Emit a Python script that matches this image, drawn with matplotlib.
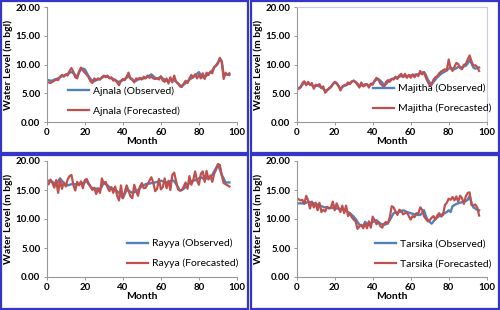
import matplotlib
matplotlib.use("Agg")
import matplotlib.pyplot as plt
from matplotlib.patches import Rectangle
import numpy as np

months = list(range(1, 97))

ajnala_obs = [7.3, 7.2, 7.2, 7.4, 7.5, 7.6, 7.8, 8.0, 8.1, 8.2,
              8.4, 8.6, 8.7, 8.5, 8.2, 7.9, 8.6, 9.2, 9.3, 9.2,
              8.6, 8.0, 7.5, 7.2, 7.1, 7.3, 7.4, 7.5, 7.7, 7.9,
              8.0, 7.9, 7.7, 7.6, 7.5, 7.3, 7.1, 7.0, 7.1, 7.3,
              7.5, 7.7, 8.0, 7.6, 7.3, 7.1, 7.2, 7.4, 7.5, 7.6,
              7.6, 7.7, 7.9, 8.1, 8.3, 8.0, 7.7, 7.6, 7.7, 7.8,
              7.6, 7.4, 7.2, 7.2, 7.3, 7.4, 7.3, 7.0, 6.7, 6.4,
              6.3, 6.5, 6.8, 7.0, 7.4, 7.6, 7.8, 8.1, 8.4, 8.7,
              8.2, 7.8, 7.9, 8.1, 8.4, 8.6, 9.0, 9.5, 9.9, 10.4,
              11.0, 10.6, 8.2, 8.3, 8.3, 8.2]
ajnala_fc = [6.9, 6.8, 7.0, 7.2, 7.4, 7.3, 7.9, 8.2, 7.9, 8.3,
             8.1, 8.9, 9.4, 8.8, 7.8, 7.6, 8.8, 9.5, 9.0, 8.6,
             8.3, 7.8, 7.1, 6.8, 7.6, 7.3, 7.6, 7.4, 7.8, 8.1,
             7.8, 8.1, 7.6, 7.8, 7.2, 7.4, 6.9, 6.4, 7.2, 7.5,
             7.3, 7.9, 8.6, 7.6, 7.5, 6.9, 7.6, 7.5, 7.7, 7.4,
             7.9, 7.6, 8.1, 7.7, 7.9, 7.6, 7.5, 7.6, 7.4, 8.0,
             7.2, 7.0, 7.6, 6.7, 7.8, 6.9, 8.1, 7.0, 6.8, 6.2,
             6.1, 6.7, 7.2, 6.8, 7.6, 8.2, 7.8, 8.3, 7.6, 8.2,
             7.6, 8.5, 7.5, 8.6, 8.2, 8.8, 8.5, 9.6, 9.8, 10.2,
             11.2, 10.4, 7.5, 8.6, 8.2, 8.5]

majitha_obs = [5.9, 6.1, 6.5, 6.9, 6.6, 6.8, 6.5, 6.4, 6.2, 6.3,
               6.3, 6.2, 6.0, 5.8, 5.4, 5.6, 5.8, 6.1, 6.6, 6.9,
               6.7, 6.3, 5.8, 6.1, 6.3, 6.4, 6.6, 6.8, 7.0, 7.2,
               7.0, 6.7, 6.3, 6.4, 6.4, 6.6, 6.5, 6.3, 6.5, 6.7,
               7.1, 7.4, 7.5, 7.2, 6.9, 6.4, 6.6, 7.0, 7.3, 7.5,
               7.6, 7.7, 7.8, 7.9, 8.0, 8.0, 8.0, 8.0, 8.1, 8.1,
               8.2, 8.2, 8.3, 8.3, 8.5, 8.6, 8.7, 8.2, 7.4, 6.9,
               6.6, 7.0, 7.4, 7.8, 8.1, 8.4, 8.6, 8.8, 9.0, 9.3,
               9.5, 9.3, 9.2, 9.4, 9.6, 9.6, 9.5, 9.7, 9.8, 10.2,
               10.8, 10.2, 9.5, 9.3, 9.4, 9.5]
majitha_fc = [5.8, 6.0, 6.8, 7.1, 6.4, 7.0, 6.5, 6.8, 5.8, 6.5,
              6.4, 6.6, 5.9, 6.2, 5.1, 5.5, 5.9, 6.1, 6.6, 7.0,
              6.8, 6.3, 5.5, 6.2, 6.4, 6.5, 6.9, 6.6, 7.1, 7.2,
              6.9, 6.5, 6.0, 6.9, 6.2, 6.4, 6.6, 6.0, 6.7, 6.5,
              7.2, 7.7, 7.4, 6.7, 6.4, 6.1, 7.0, 7.3, 7.0, 7.5,
              7.4, 7.9, 7.5, 8.1, 8.4, 7.8, 8.4, 7.7, 8.2, 7.7,
              8.3, 7.8, 8.3, 8.0, 8.9, 8.3, 8.7, 7.7, 7.0, 6.4,
              6.5, 7.4, 7.8, 8.0, 8.5, 8.8, 9.0, 9.2, 9.0, 10.9,
              9.4, 8.9, 9.6, 10.3, 10.1, 9.4, 9.2, 10.0, 10.1, 10.9,
              11.6, 10.6, 9.8, 9.9, 9.6, 8.9]

rayya_obs = [16.6, 16.5, 16.4, 16.2, 16.0, 16.5, 17.0, 16.6, 16.2, 15.9,
             15.8, 15.9, 16.0, 16.0, 16.0, 15.9, 16.0, 16.1, 16.2, 16.3,
             16.5, 16.0, 15.6, 15.3, 15.3, 15.2, 15.3, 15.0, 15.6, 16.4,
             16.0, 15.8, 15.5, 15.3, 15.2, 15.0, 14.8, 14.5, 14.0, 13.6,
             14.3, 15.0, 14.9, 14.7, 14.5, 14.6, 14.8, 15.0, 15.3, 15.7,
             15.8, 16.0, 16.1, 16.1, 16.2, 16.2, 16.3, 16.4, 16.5, 16.6,
             16.5, 16.4, 16.3, 16.3, 16.5, 16.7, 16.5, 16.0, 15.5, 14.9,
             15.0, 15.2, 15.5, 15.9, 16.2, 16.5, 16.6, 16.7, 16.8, 17.0,
             17.2, 17.0, 16.9, 17.0, 17.1, 17.3, 17.6, 18.2, 18.8, 19.3,
             18.5, 17.6, 17.0, 16.3, 16.3, 16.3]
rayya_fc = [16.0, 16.8, 16.2, 15.4, 16.7, 14.5, 16.9, 15.2, 16.3, 15.6,
            16.8, 17.4, 17.6, 15.9, 14.9, 16.4, 15.8, 16.5, 15.3, 16.7,
            16.9, 16.2, 15.6, 15.0, 15.4, 14.3, 15.2, 14.5, 17.0, 16.0,
            16.4, 15.4, 14.8, 15.5, 14.5, 15.6, 14.0, 13.2, 15.8, 13.6,
            14.6, 15.8, 14.9, 13.9, 13.6, 15.9, 14.8, 14.0, 15.6, 16.2,
            15.3, 15.4, 16.0, 16.6, 17.2, 16.3, 14.8, 15.2, 16.9, 15.1,
            15.5, 17.0, 15.3, 16.6, 15.0, 17.6, 18.0, 16.5, 15.1, 14.9,
            15.0, 15.6, 16.3, 15.2, 17.4, 15.9, 16.7, 18.2, 16.6, 15.9,
            17.8, 18.2, 16.4, 18.3, 16.8, 17.5, 16.4, 17.8, 18.5, 19.5,
            19.3, 17.5, 16.2, 16.0, 15.8, 15.6]

tarsika_obs = [12.7, 12.7, 12.7, 12.7, 12.8, 13.0, 12.9, 12.8, 12.7, 12.6,
               12.5, 12.3, 12.2, 12.1, 12.0, 12.0, 11.9, 11.9, 11.9, 11.9,
               11.8, 11.8, 11.7, 11.6, 11.5, 11.5, 11.2, 11.0, 10.7, 10.4,
               10.0, 9.5, 9.0, 8.9, 8.8, 9.5, 9.2, 9.0, 9.2, 9.5,
               9.6, 9.8, 9.5, 9.2, 9.1, 9.0, 9.1, 9.3, 9.8, 10.4,
               11.0, 11.1, 11.1, 11.2, 11.3, 11.5, 11.4, 11.2, 11.1, 11.0,
               10.9, 10.8, 10.7, 10.7, 10.7, 11.0, 11.5, 10.5, 9.8, 9.5,
               9.2, 9.6, 10.0, 10.3, 10.5, 10.7, 10.9, 11.0, 11.2, 11.5,
               11.2, 12.2, 12.4, 12.6, 12.7, 12.8, 12.9, 13.0, 13.1, 13.3,
               14.0, 12.8, 12.0, 11.8, 11.6, 11.5]
tarsika_fc = [13.4, 13.2, 13.3, 12.6, 14.0, 13.2, 11.8, 13.0, 12.0, 12.8,
              11.5, 12.8, 11.2, 11.6, 11.3, 12.1, 11.8, 12.0, 13.0, 11.5,
              12.7, 11.9, 11.2, 12.3, 11.0, 12.3, 10.5, 11.0, 10.3, 9.9,
              9.6, 8.3, 8.7, 9.0, 8.4, 9.2, 8.4, 9.6, 8.5, 10.4,
              9.8, 9.1, 9.5, 8.8, 8.5, 9.2, 9.5, 9.2, 10.3, 12.2,
              12.0, 11.3, 10.7, 11.6, 11.4, 10.8, 11.0, 11.1, 10.5, 9.9,
              10.5, 10.3, 11.0, 10.9, 12.0, 11.6, 10.5, 10.0, 9.6, 9.8,
              10.2, 10.5, 9.9, 10.6, 11.0, 10.4, 10.7, 12.4, 12.8, 13.5,
              13.3, 13.8, 13.2, 13.9, 13.0, 14.0, 13.6, 12.6, 13.9, 14.5,
              14.6, 12.4, 12.3, 12.5, 12.0, 10.6]

sites = ["Ajnala", "Majitha", "Rayya", "Tarsika"]
observed = [ajnala_obs, majitha_obs, rayya_obs, tarsika_obs]
forecasted = [ajnala_fc, majitha_fc, rayya_fc, tarsika_fc]

x_ticks = [0, 20, 40, 60, 80, 100]
y_ticks = [0, 5, 10, 15, 20]

BLUE = "#4F81BD"
RED = "#C0504D"
FRAME = "#3535C8"

W, H = 500, 310
fig = plt.figure(figsize=(5, 3.1), dpi=100)
plt.rcParams['font.family'] = ['Lato', 'DejaVu Sans']

# axes positions in pixels (left, right, top, bottom)
pos_px = [
    (46.7, 237.0, 7.3, 122.0),
    (296.7, 486.7, 7.3, 122.0),
    (46.7, 237.0, 161.0, 277.0),
    (296.7, 486.7, 161.0, 277.0),
]
leg_anchor = [(0.09, 0.02), (0.38, 0.04), (0.40, 0.04), (0.39, 0.04)]

for i, (l, r, t, b) in enumerate(pos_px):
    ax = fig.add_axes([l / W, 1 - b / H, (r - l) / W, (b - t) / H])
    ax.plot(months, observed[i], color=BLUE, lw=1.7, label=f"{sites[i]} (Observed)")
    ax.plot(months, forecasted[i], color=RED, lw=1.6, label=f"{sites[i]} (Forecasted)")
    ax.set_xlim(0, 100)
    ax.set_ylim(0, 20)
    ax.set_xticks(x_ticks)
    ax.set_yticks(y_ticks)
    ax.set_yticklabels([f"{v:.2f}" for v in y_ticks])
    ax.tick_params(labelsize=7, length=2.5, width=0.6, color="#888888", pad=2)
    for lab in ax.get_xticklabels() + ax.get_yticklabels():
        lab.set_fontweight("bold")
    ax.set_xlabel("Month", fontsize=7.5, fontweight="bold", labelpad=0)
    ax.set_ylabel("Water Level (m bgl)", fontsize=7.5, fontweight="bold", labelpad=2)
    for s in ["left", "bottom"]:
        ax.spines[s].set_color("#999999")
        ax.spines[s].set_linewidth(0.8)
    if i == 1:
        for s in ["top", "right"]:
            ax.spines[s].set_color("#C8C8F0")
            ax.spines[s].set_linewidth(0.8)
    else:
        ax.spines["top"].set_visible(False)
        ax.spines["right"].set_visible(False)
    ax.legend(loc="lower left", bbox_to_anchor=leg_anchor[i], frameon=False,
              fontsize=7.5, handlelength=2.0, labelspacing=1.0, handletextpad=0.4,
              borderaxespad=0)

# panel frames
frames_px = [(1, 1, 247, 152), (251, 1, 248, 152), (1, 155, 247, 154), (251, 155, 248, 154)]
for (x0, y0, w, h) in frames_px:
    fig.add_artist(Rectangle((x0 / W, 1 - (y0 + h) / H), w / W, h / H,
                             transform=fig.transFigure, fill=False,
                             edgecolor=FRAME, lw=1.6))

fig.savefig("out.png", dpi=100)
